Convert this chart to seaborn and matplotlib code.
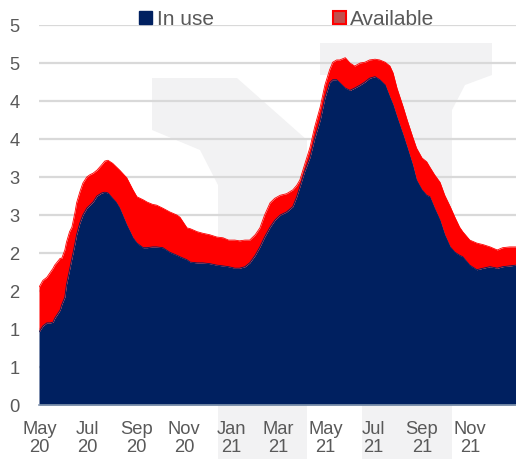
import numpy as np
import pandas as pd
import matplotlib
matplotlib.use("Agg")
import matplotlib.pyplot as plt
from matplotlib.patches import Patch, Polygon
import seaborn as sns

# ---- data ----
start_date = "2020-05-01"
day_offsets = [-1, 4, 9, 13, 17, 19, 26, 28, 32, 34,
               38, 41, 45, 47, 51, 55, 60, 64, 68, 73,
               79, 83, 87, 93, 98, 102, 111, 119, 124, 132,
               137, 144, 149, 157, 166, 175, 179, 188, 192, 201,
               208, 217, 226, 234, 241, 249, 255, 262, 268, 275,
               281, 287, 294, 300, 307, 315, 323, 328, 332, 338,
               345, 351, 358, 364, 370, 374, 379, 383, 390, 396,
               402, 409, 415, 421, 428, 434, 441, 447, 451, 456,
               464, 469, 476, 481, 488, 494, 498, 504, 511, 517,
               524, 530, 536, 540, 549, 558, 566, 575, 584, 591,
               600, 608]
in_use = [0.96, 1.04, 1.08, 1.08, 1.09, 1.14, 1.25, 1.32, 1.42, 1.58,
          1.78, 1.93, 2.13, 2.24, 2.39, 2.50, 2.59, 2.63, 2.67, 2.75,
          2.79, 2.80, 2.79, 2.72, 2.66, 2.59, 2.37, 2.20, 2.13, 2.07,
          2.07, 2.08, 2.08, 2.07, 2.01, 1.97, 1.95, 1.91, 1.88, 1.87,
          1.87, 1.86, 1.84, 1.83, 1.82, 1.80, 1.80, 1.82, 1.87, 1.97,
          2.08, 2.21, 2.34, 2.43, 2.50, 2.54, 2.61, 2.74, 2.87, 3.07,
          3.26, 3.51, 3.75, 4.04, 4.24, 4.28, 4.28, 4.24, 4.17, 4.14,
          4.17, 4.21, 4.25, 4.30, 4.32, 4.28, 4.21, 4.05, 3.95, 3.79,
          3.55, 3.39, 3.16, 2.96, 2.83, 2.76, 2.74, 2.59, 2.43, 2.24,
          2.08, 2.01, 1.97, 1.95, 1.84, 1.78, 1.80, 1.82, 1.80, 1.82,
          1.83, 1.84]
available = [0.59, 0.60, 0.60, 0.66, 0.71, 0.70, 0.68, 0.61, 0.62, 0.56,
             0.50, 0.41, 0.41, 0.42, 0.41, 0.42, 0.41, 0.40, 0.38, 0.34,
             0.37, 0.41, 0.43, 0.46, 0.47, 0.50, 0.62, 0.63, 0.61, 0.63,
             0.60, 0.56, 0.55, 0.52, 0.53, 0.53, 0.52, 0.42, 0.44, 0.41,
             0.39, 0.38, 0.37, 0.37, 0.35, 0.37, 0.36, 0.35, 0.30, 0.27,
             0.25, 0.29, 0.32, 0.29, 0.26, 0.24, 0.22, 0.15, 0.09, 0.09,
             0.13, 0.15, 0.17, 0.17, 0.17, 0.23, 0.26, 0.30, 0.40, 0.36,
             0.29, 0.29, 0.26, 0.24, 0.23, 0.26, 0.30, 0.41, 0.42, 0.38,
             0.37, 0.36, 0.37, 0.42, 0.42, 0.44, 0.39, 0.44, 0.50, 0.52,
             0.53, 0.46, 0.37, 0.33, 0.33, 0.35, 0.31, 0.26, 0.24, 0.25,
             0.25, 0.24]
series_names = ["In use", "Available"]
xtick_dates = ["2020-05-01", "2020-07-01", "2020-09-01", "2020-11-01", "2021-01-01",
               "2021-03-01", "2021-05-01", "2021-07-01", "2021-09-01", "2021-11-01"]
xtick_labels = ["May\n20", "Jul\n20", "Sep\n20", "Nov\n20", "Jan\n21",
                "Mar\n21", "May\n21", "Jul\n21", "Sep\n21", "Nov\n21"]
ytick_values = [0, 0.5, 1, 1.5, 2, 2.5, 3, 3.5, 4, 4.5, 5]
ytick_labels = ["0", "1", "1", "2", "2", "3", "3", "4", "4", "5", "5"]

# ---- build frame ----
dates = pd.to_datetime(start_date) + pd.to_timedelta(day_offsets, unit="D")
df = pd.DataFrame({"date": dates, "in_use": in_use, "available": available})
df["total"] = df["in_use"] + df["available"]

sns.set_theme(style="white")
plt.rcParams["font.family"] = ["Liberation Sans", "DejaVu Sans"]

W, H = 516, 459
fig = plt.figure(figsize=(W / 100, H / 100), dpi=100)
fig.patch.set_facecolor("white")

# faint background watermark (logo-like shapes), drawn behind everything
bg = fig.add_axes([0, 0, 1, 1], zorder=-5)
bg.set_xlim(0, W)
bg.set_ylim(H, 0)
bg.axis("off")
wm = "#f2f2f3"
bg.add_patch(Polygon([(152, 78), (237, 78), (307, 140), (307, 459), (218, 459),
                      (218, 185), (200, 150), (152, 130)], closed=True,
                     facecolor=wm, edgecolor="none"))
bg.add_patch(Polygon([(320, 43), (492, 43), (492, 75), (465, 85), (452, 110),
                      (452, 459), (362, 459), (362, 75), (320, 75)], closed=True,
                     facecolor=wm, edgecolor="none"))

left, right, top, bottom = 39, 516, 25, 405
ax = fig.add_axes([left / W, 1 - bottom / H, (right - left) / W, (bottom - top) / H], zorder=1)
ax.set_facecolor("none")

navy = "#002060"
red = "#ff0000"
ax.fill_between(df["date"], 0, df["in_use"], color=navy, lw=0, zorder=3)
ax.fill_between(df["date"], df["in_use"], df["total"], color=red, lw=0, zorder=3)
sns.lineplot(data=df, x="date", y="in_use", ax=ax, color=navy, lw=0.6, zorder=4)
sns.lineplot(data=df, x="date", y="total", ax=ax, color=red, lw=0.6, zorder=4)

ax.set_xlim(pd.Timestamp("2020-04-30"), pd.Timestamp(start_date) + pd.Timedelta(days=608))
ax.set_ylim(0, 5)
ax.set_yticks(ytick_values)
ax.set_yticklabels(ytick_labels, fontsize=13.2, color="#595959")
ax.set_xticks(pd.to_datetime(xtick_dates))
ax.set_xticklabels(xtick_labels, fontsize=13.2, color="#595959", linespacing=1.05)
ax.tick_params(axis="x", length=0, pad=11.5)
ax.tick_params(axis="y", length=0, pad=14)
ax.set_xlabel("")
ax.set_ylabel("")

for v in ytick_values[1:]:
    ax.axhline(v, color="#d9d9d9", lw=1.6, zorder=1)
for s in ["top", "right", "left"]:
    ax.spines[s].set_visible(False)
ax.spines["bottom"].set_color("#8497b0")
ax.spines["bottom"].set_linewidth(1.2)
ax.spines["bottom"].set_zorder(5)

handles = [Patch(facecolor=navy, edgecolor=navy),
           Patch(facecolor="#c0504d", edgecolor=red, lw=1.5)]
leg = ax.legend(handles, series_names, loc="center", bbox_to_anchor=(0.52, 1.015),
                ncol=2, frameon=False, fontsize=15, handlelength=0.62,
                handleheight=0.62, handletextpad=0.2, columnspacing=5.75,
                borderaxespad=0)
for t in leg.get_texts():
    t.set_color("#595959")
leg.set_zorder(10)

fig.savefig("out.png", dpi=100, facecolor="white")
